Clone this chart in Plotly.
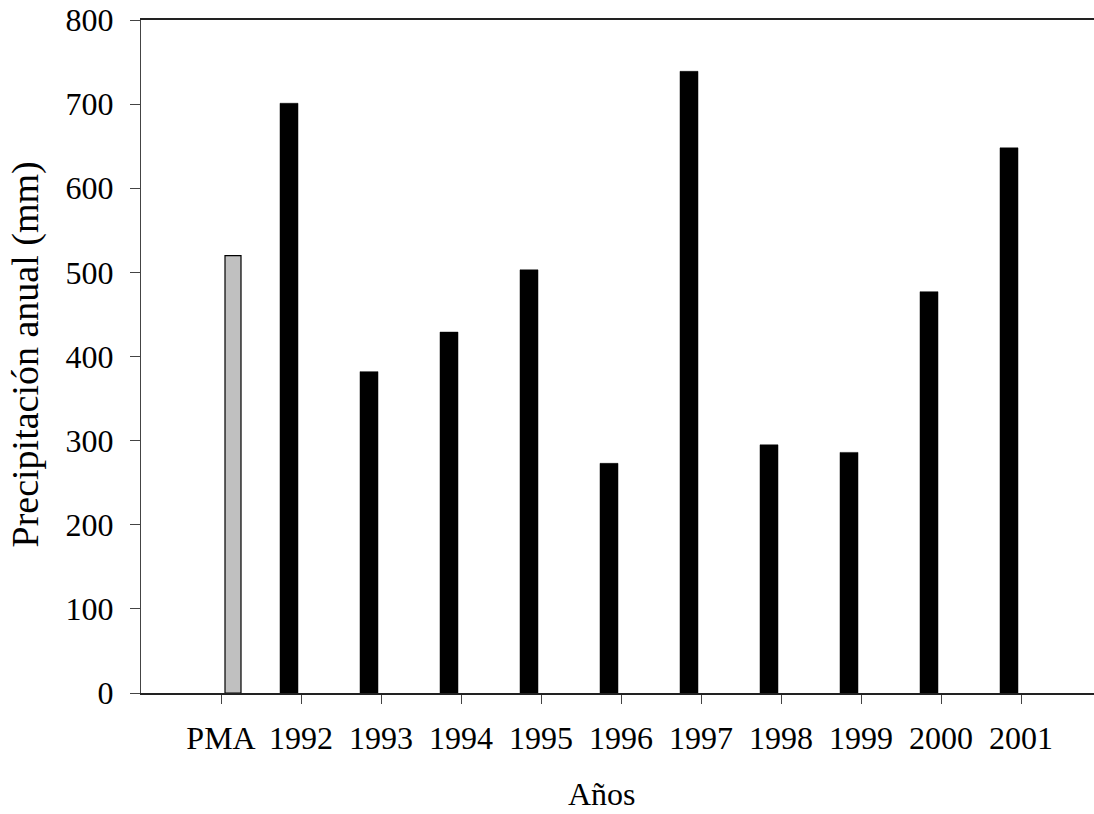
import plotly.graph_objects as go

# Annual precipitation (mm): long-term mean (PMA) and yearly totals
categories = ["PMA", "1992", "1993", "1994", "1995", "1996",
              "1997", "1998", "1999", "2000", "2001"]
pma_label = ["PMA"]
pma_value = [520]
years = ["1992", "1993", "1994", "1995", "1996",
         "1997", "1998", "1999", "2000", "2001"]
yearly_values = [701, 382, 429, 503, 273, 739, 295, 286, 477, 648]
y_ticks = [0, 100, 200, 300, 400, 500, 600, 700, 800]

FONT = "Liberation Serif"
TICK_SIZE = 32

fig = go.Figure()

fig.add_trace(go.Bar(
    x=years, y=yearly_values,
    marker=dict(color="black", line=dict(color="black", width=0.5)),
    width=0.225, offset=-0.2625,
    showlegend=False,
))

fig.add_trace(go.Bar(
    x=pma_label, y=pma_value,
    marker=dict(color="#c0c0c0", line=dict(color="black", width=1.2)),
    width=0.2, offset=0.05,
    showlegend=False,
))

fig.update_layout(
    width=1094, height=814,
    margin=dict(l=141, r=0, t=20, b=121),
    paper_bgcolor="white", plot_bgcolor="white",
    barmode="overlay",
    font=dict(family=FONT, size=TICK_SIZE, color="black"),
    xaxis=dict(
        type="category",
        categoryorder="array", categoryarray=categories,
        range=[-1, 10.9125],
        showgrid=False, zeroline=False,
        showline=True, linecolor="#222", linewidth=1.5, mirror=True,
        ticks="outside", ticklen=9, tickwidth=1.2, tickcolor="#444",
        ticklabelstandoff=7,
        tickfont=dict(family=FONT, size=TICK_SIZE, color="black"),
    ),
    yaxis=dict(
        range=[0, 800],
        tickvals=y_ticks,
        showgrid=False, zeroline=False,
        showline=True, linecolor="#444", linewidth=1.3,
        ticks="outside", ticklen=10, tickwidth=1.2, tickcolor="#444",
        ticklabelstandoff=10,
        tickfont=dict(family=FONT, size=TICK_SIZE, color="black"),
    ),
    annotations=[
        dict(
            text="Años", xref="paper", yref="paper",
            x=(602 - 141) / 953, y=0, yshift=-101,
            xanchor="center", yanchor="middle", showarrow=False,
            font=dict(family=FONT, size=TICK_SIZE, color="black"),
        ),
        dict(
            text="Precipitación anual (mm)", xref="paper", yref="paper",
            x=0, xshift=-116, y=0.5, yshift=2,
            xanchor="center", yanchor="middle", showarrow=False,
            textangle=-90,
            font=dict(family=FONT, size=38, color="black"),
        ),
    ],
)

fig.write_html("out.html")
